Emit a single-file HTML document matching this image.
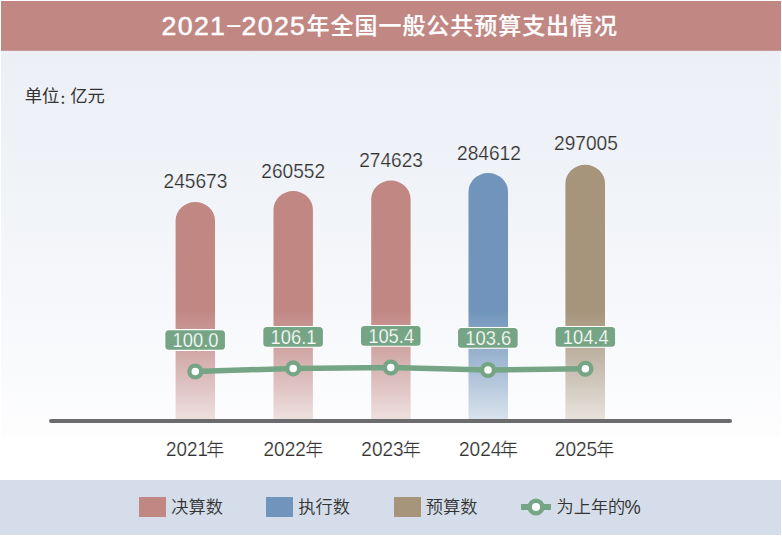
<!DOCTYPE html>
<html lang="zh-CN">
<head>
<meta charset="utf-8">
<title>2021−2025年全国一般公共预算支出情况</title>
<style>
  html, body { margin: 0; padding: 0; background: #ffffff; }
  body { width: 782px; height: 538px; overflow: hidden; }
  svg { display: block; }
  .lat { font-family: "Liberation Sans", "Noto Sans CJK SC", sans-serif; }
  .cjk { font-family: "Liberation Sans", "Noto Sans CJK SC", sans-serif; }
  .val { font-size: 19.6px; fill: #333333; text-anchor: middle; stroke: #eff2f7; stroke-width: 0.2px; }
  .pct { font-size: 19.4px; fill: #ffffff; text-anchor: middle; stroke: #75a585; stroke-width: 0.25px; }
  .yr  { font-size: 18px; fill: #333333; stroke: #fdfdfe; stroke-width: 0.2px; }
  .lg  { font-size: 17.2px; fill: #333333; font-weight: 350; }
</style>
</head>
<body>
<svg width="782" height="538" viewBox="0 0 782 538">
  <defs>
    <linearGradient id="bg" x1="0" y1="0" x2="0" y2="1">
      <stop offset="0" stop-color="#ecf0f6"/>
      <stop offset="0.3" stop-color="#eff2f7"/>
      <stop offset="1" stop-color="#fdfdfe"/>
    </linearGradient>
    <linearGradient id="gRed" gradientUnits="userSpaceOnUse" x1="0" y1="310" x2="0" y2="419">
      <stop offset="0" stop-color="#c18783"/>
      <stop offset="1" stop-color="#c18783" stop-opacity="0.25"/>
    </linearGradient>
    <linearGradient id="gBlue" gradientUnits="userSpaceOnUse" x1="0" y1="310" x2="0" y2="419">
      <stop offset="0" stop-color="#7094bb"/>
      <stop offset="1" stop-color="#7094bb" stop-opacity="0.25"/>
    </linearGradient>
    <linearGradient id="gTan" gradientUnits="userSpaceOnUse" x1="0" y1="310" x2="0" y2="419">
      <stop offset="0" stop-color="#a6947b"/>
      <stop offset="1" stop-color="#a6947b" stop-opacity="0.25"/>
    </linearGradient>
  </defs>

  <!-- backgrounds -->
  <rect x="0" y="0" width="782" height="538" fill="#ffffff"/>
  <rect x="1" y="50" width="779.6" height="387" fill="url(#bg)"/>
  <rect x="1" y="1" width="780" height="49.8" fill="#c18783"/>
  <rect x="0" y="480" width="781" height="55" fill="#d4dde9"/>

  <!-- title -->
  <g class="lat" fill="#ffffff">
    <g font-size="26.7" letter-spacing="1.35" stroke="#ffffff" stroke-width="0.5" stroke-linejoin="round">
      <text x="161.5" y="34.8">2021</text>
      <text x="226.3" y="34.8" stroke-width="0.15">−</text>
      <text x="241.5" y="34.8">2025</text>
    </g>
    <text x="306.6" y="34.3" font-size="23" letter-spacing="0.95" font-weight="500" stroke="#ffffff" stroke-width="0.2">年全国一般公共预算支出情况</text>
  </g>

  <!-- unit -->
  <text class="cjk" y="101.8" font-size="17.3" fill="#333333"><tspan x="24.8">单位</tspan><tspan x="59.8" y="103.7" font-size="12.5" font-weight="700">：</tspan><tspan x="70.2" y="101.8">亿元</tspan></text>

  <!-- bars -->
  <path d="M175.6 419.2 V220.6 A19.70 18.6 0 0 1 215.0 220.6 V419.2 Z" fill="url(#gRed)"/>
  <path d="M273.5 419.2 V209.6 A19.70 18.6 0 0 1 312.9 209.6 V419.2 Z" fill="url(#gRed)"/>
  <path d="M371.2 419.2 V199.1 A19.70 18.6 0 0 1 410.6 199.1 V419.2 Z" fill="url(#gRed)"/>
  <path d="M468.5 419.2 V191.7 A19.75 18.6 0 0 1 508.0 191.7 V419.2 Z" fill="url(#gBlue)"/>
  <path d="M565.4 419.2 V183.4 A19.80 18.6 0 0 1 605.0 183.4 V419.2 Z" fill="url(#gTan)"/>

  <!-- axis -->
  <line x1="51" y1="421" x2="730" y2="421" stroke="#6b6b6d" stroke-width="4" stroke-linecap="round"/>

  <!-- value labels -->
  <text class="lat val" x="195.5" y="188" textLength="63.8" lengthAdjust="spacingAndGlyphs">245673</text>
  <text class="lat val" x="293.2" y="177.7" textLength="63.8" lengthAdjust="spacingAndGlyphs">260552</text>
  <text class="lat val" x="391.1" y="166.7" textLength="63.8" lengthAdjust="spacingAndGlyphs">274623</text>
  <text class="lat val" x="488.9" y="159.7" textLength="63.8" lengthAdjust="spacingAndGlyphs">284612</text>
  <text class="lat val" x="585.9" y="150.3" textLength="63.8" lengthAdjust="spacingAndGlyphs">297005</text>

  <!-- line -->
  <polyline points="195.3,371.5 293.2,368.4 390.8,367.5 488,369.95 585.4,368.7" fill="none" stroke="#75a585" stroke-width="5.5" stroke-linejoin="round"/>
  <g fill="#ffffff" stroke="#75a585" stroke-width="4.3">
    <circle cx="195.3" cy="371.5" r="5.9"/>
    <circle cx="293.2" cy="368.4" r="5.9"/>
    <circle cx="390.8" cy="367.5" r="5.9"/>
    <circle cx="488" cy="369.95" r="5.9"/>
    <circle cx="585.4" cy="368.7" r="5.9"/>
  </g>

  <!-- pct labels -->
  <g fill="#75a585" stroke="#ffffff" stroke-width="2.2" paint-order="stroke">
    <rect x="165.35" y="330.20" width="59.6" height="19.6" rx="3.5"/>
    <rect x="263.30" y="327.05" width="59.6" height="19.6" rx="3.5"/>
    <rect x="360.95" y="326.10" width="59.6" height="19.6" rx="3.5"/>
    <rect x="458.05" y="328.05" width="59.6" height="19.6" rx="3.5"/>
    <rect x="555.50" y="327.05" width="59.6" height="19.6" rx="3.5"/>
  </g>
  <text class="lat pct" x="195.55" y="346.95" textLength="45.9" lengthAdjust="spacingAndGlyphs">100.0</text>
  <text class="lat pct" x="293.50" y="343.80" textLength="45.9" lengthAdjust="spacingAndGlyphs">106.1</text>
  <text class="lat pct" x="391.15" y="342.85" textLength="45.9" lengthAdjust="spacingAndGlyphs">105.4</text>
  <text class="lat pct" x="488.25" y="344.80" textLength="45.9" lengthAdjust="spacingAndGlyphs">103.6</text>
  <text class="lat pct" x="585.70" y="343.80" textLength="45.9" lengthAdjust="spacingAndGlyphs">104.4</text>

  <!-- year labels -->
  <text class="lat yr" y="455.7"><tspan x="166.1" font-size="19.4" textLength="41.8" lengthAdjust="spacingAndGlyphs">2021</tspan><tspan x="206.3" font-size="18" font-weight="350">年</tspan></text>
  <text class="lat yr" y="455.7"><tspan x="263.5" font-size="19.4" textLength="42.4" lengthAdjust="spacingAndGlyphs">2022</tspan><tspan x="305.2" font-size="18" font-weight="350">年</tspan></text>
  <text class="lat yr" y="455.7"><tspan x="361.3" font-size="19.4" textLength="42.4" lengthAdjust="spacingAndGlyphs">2023</tspan><tspan x="402.8" font-size="18" font-weight="350">年</tspan></text>
  <text class="lat yr" y="455.7"><tspan x="459.0" font-size="19.4" textLength="42.4" lengthAdjust="spacingAndGlyphs">2024</tspan><tspan x="500.1" font-size="18" font-weight="350">年</tspan></text>
  <text class="lat yr" y="455.7"><tspan x="554.8" font-size="19.4" textLength="42.4" lengthAdjust="spacingAndGlyphs">2025</tspan><tspan x="596.3" font-size="18" font-weight="350">年</tspan></text>

  <!-- legend -->
  <rect x="139" y="497" width="27" height="20" fill="#c18783"/>
  <text class="cjk lg" x="171.3" y="512.8">决算数</text>
  <rect x="266" y="497" width="27" height="20" fill="#7094bb"/>
  <text class="cjk lg" x="298.3" y="512.8">执行数</text>
  <rect x="394" y="497" width="27" height="20" fill="#a6947b"/>
  <text class="cjk lg" x="425.8" y="512.8">预算数</text>
  <line x1="521" y1="507" x2="551" y2="507" stroke="#75a585" stroke-width="6"/>
  <circle cx="536" cy="507" r="6.3" fill="#ffffff" stroke="#75a585" stroke-width="4.5"/>
  <text class="cjk lg" x="556.5" y="512.8">为上年的<tspan x="624.6" y="513.7" font-size="19.8" textLength="16.2" lengthAdjust="spacingAndGlyphs">%</tspan></text>
</svg>
</body>
</html>
